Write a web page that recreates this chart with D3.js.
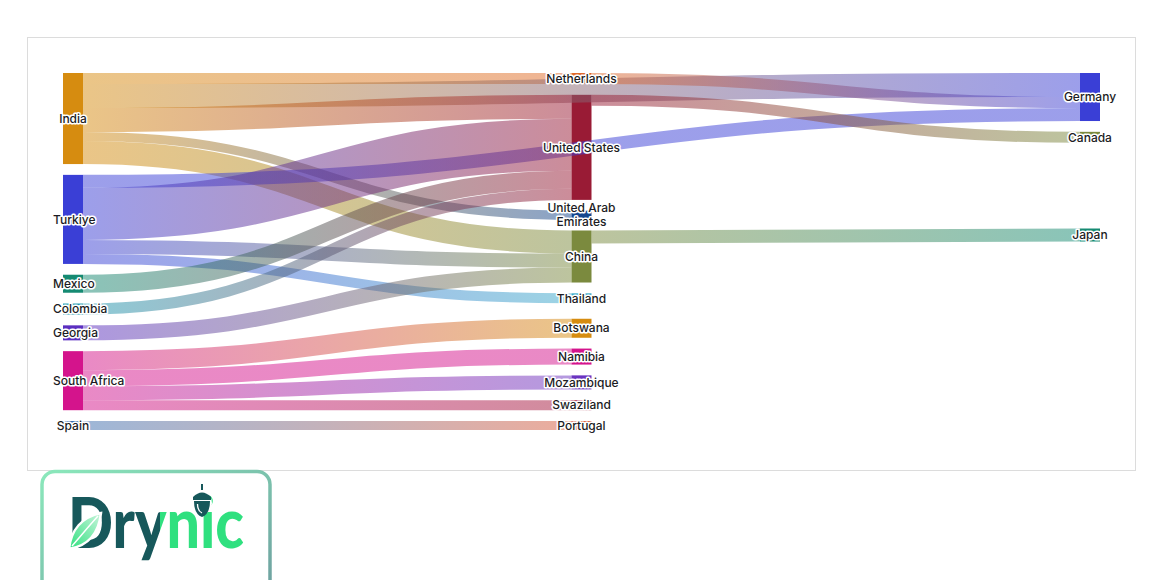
<!DOCTYPE html>
<html>
<head>
<meta charset="utf-8">
<script src="https://cdn.jsdelivr.net/npm/d3@7"></script>
<style>
    html, body { margin: 0; padding: 0; background: #fff; }
    svg { display: block; font-family: Inter, 'Noto Sans', sans-serif; }
</style>
</head>
<body>
<svg id="chart" width="1160" height="580"></svg>
<script>
// Countries, column by column (exporters, first buyers, re-export markets)
const countries = [
    'India', 'Turkiye', 'Mexico', 'Colombia', 'Georgia', 'South Africa', 'Spain',
    'Netherlands', 'United States', 'United Arab Emirates', 'China', 'Thailand',
    'Botswana', 'Namibia', 'Mozambique', 'Swaziland', 'Portugal',
    'Germany', 'Canada', 'Japan'
];
const countryColors = [
    '#d68c10', '#3a3fd6', '#158a72', '#1b98b0', '#5b2fc0', '#d4148c', '#3d6fb0',
    '#e06a2a', '#991b35', '#15478e', '#7b8a3e', '#3aa9c9',
    '#d68c10', '#d4148c', '#6a34c0', '#a3193a', '#d95b3b',
    '#3a3fd6', '#7b8a3e', '#158a72'
];

// Trade flows (order = stacking order on each node)
const flowFrom = [
    'India', 'India', 'India', 'India', 'India',
    'Netherlands',
    'Turkiye', 'Turkiye', 'Turkiye', 'Turkiye',
    'Mexico', 'Colombia', 'Georgia',
    'South Africa', 'South Africa', 'South Africa', 'South Africa',
    'Spain', 'United States', 'China'
];
const flowTo = [
    'Netherlands', 'Germany', 'United States', 'United Arab Emirates', 'China',
    'Germany',
    'Germany', 'United States', 'China', 'Thailand',
    'United States', 'United States', 'China',
    'Botswana', 'Namibia', 'Mozambique', 'Swaziland',
    'Portugal', 'Canada', 'Japan'
];
const flowValue = [
    11, 24, 24, 9, 23,
    11,
    13, 52, 14, 10,
    18, 11, 15,
    19, 16, 14, 10,
    9, 11, 13
];

const width = 1160;
const height = 580;
const extent = [[63, 73], [1100, 430]];
const nodeWidth = 20;
const nodePadding = 10.8;

const svg = d3.select('#chart');

// frame
svg.append('rect')
    .attr('x', 27.5)
    .attr('y', 37.5)
    .attr('width', 1108)
    .attr('height', 433)
    .attr('fill', '#fff')
    .attr('stroke', '#dcdcdc')

// small sankey layout (same algorithm as d3-sankey, left aligned, input order kept)
function sankeyLayout(names, from, to, values) {
    const nodes = names.map((name, index) => ({ name, index, color: countryColors[index], sourceLinks: [], targetLinks: [] }));
    const byName = new Map(nodes.map(n => [n.name, n]));
    const links = values.map((value, index) => ({ index, value, source: byName.get(from[index]), target: byName.get(to[index]) }));
    links.forEach(l => {
        l.source.sourceLinks.push(l);
        l.target.targetLinks.push(l);
    });
    nodes.forEach(n => {
        n.value = Math.max(d3.sum(n.sourceLinks, l => l.value), d3.sum(n.targetLinks, l => l.value));
    });

    // depths
    let current = new Set(nodes);
    let next = new Set();
    let depth = 0;
    while (current.size) {
        for (const n of current) {
            n.depth = depth;
            for (const l of n.sourceLinks) next.add(l.target);
        }
        depth++;
        current = next;
        next = new Set();
    }

    const [[x0, y0], [x1, y1]] = extent;
    const nCols = d3.max(nodes, n => n.depth) + 1;
    const kx = (x1 - x0 - nodeWidth) / (nCols - 1);
    const columns = d3.range(nCols).map(() => []);
    nodes.forEach(n => {
        n.layer = n.depth;
        n.x0 = x0 + n.layer * kx;
        n.x1 = n.x0 + nodeWidth;
        columns[n.layer].push(n);
    });

    const py = Math.min(nodePadding, (y1 - y0) / (d3.max(columns, c => c.length) - 1));
    const ky = d3.min(columns, c => (y1 - y0 - (c.length - 1) * py) / d3.sum(c, n => n.value));
    const breadth = d3.scaleLinear().domain([0, 1]).range([0, ky]);

    for (const col of columns) {
        let y = y0;
        for (const n of col) {
            n.y0 = y;
            n.y1 = y + breadth(n.value);
            y = n.y1 + py;
            n.sourceLinks.forEach(l => l.width = breadth(l.value));
        }
        const spare = (y1 - y + py) / (col.length + 1);
        col.forEach((n, i) => {
            n.y0 += spare * (i + 1);
            n.y1 += spare * (i + 1);
        });
    }

    function targetTop(source, target) {
        let y = source.y0 - (source.sourceLinks.length - 1) * py / 2;
        for (const l of source.sourceLinks) {
            if (l.target === target) break;
            y += l.width + py;
        }
        for (const l of target.targetLinks) {
            if (l.source === source) break;
            y -= l.width;
        }
        return y;
    }

    function sourceTop(source, target) {
        let y = target.y0 - (target.targetLinks.length - 1) * py / 2;
        for (const l of target.targetLinks) {
            if (l.source === source) break;
            y += l.width + py;
        }
        for (const l of source.sourceLinks) {
            if (l.target === target) break;
            y -= l.width;
        }
        return y;
    }

    function pushDown(col, y, i, alpha) {
        for (; i < col.length; ++i) {
            const n = col[i];
            const dy = (y - n.y0) * alpha;
            if (dy > 1e-6) { n.y0 += dy; n.y1 += dy; }
            y = n.y1 + py;
        }
    }

    function pushUp(col, y, i, alpha) {
        for (; i >= 0; --i) {
            const n = col[i];
            const dy = (n.y1 - y) * alpha;
            if (dy > 1e-6) { n.y0 -= dy; n.y1 -= dy; }
            y = n.y0 - py;
        }
    }

    function resolveCollisions(col, alpha) {
        const i = col.length >> 1;
        const subject = col[i];
        pushUp(col, subject.y0 - py, i - 1, alpha);
        pushDown(col, subject.y1 + py, i + 1, alpha);
        pushUp(col, y1, col.length - 1, alpha);
        pushDown(col, y0, 0, alpha);
    }

    const iterations = 6;
    for (let it = 0; it < iterations; ++it) {
        const alpha = Math.pow(0.99, it);
        const beta = Math.max(1 - alpha, (it + 1) / iterations);

        // right to left
        for (let c = columns.length - 2; c >= 0; --c) {
            for (const source of columns[c]) {
                let y = 0, w = 0;
                for (const l of source.sourceLinks) {
                    const v = l.value * (l.target.layer - source.layer);
                    y += sourceTop(source, l.target) * v;
                    w += v;
                }
                if (!(w > 0)) continue;
                const dy = (y / w - source.y0) * alpha;
                source.y0 += dy;
                source.y1 += dy;
            }
            resolveCollisions(columns[c], beta);
        }

        // left to right
        for (let c = 1; c < columns.length; ++c) {
            for (const target of columns[c]) {
                let y = 0, w = 0;
                for (const l of target.targetLinks) {
                    const v = l.value * (target.layer - l.source.layer);
                    y += targetTop(l.source, target) * v;
                    w += v;
                }
                if (!(w > 0)) continue;
                const dy = (y / w - target.y0) * alpha;
                target.y0 += dy;
                target.y1 += dy;
            }
            resolveCollisions(columns[c], beta);
        }
    }

    // link breadths
    nodes.forEach(n => {
        let ys = n.y0;
        let yt = n.y0;
        n.sourceLinks.forEach(l => { l.y0 = ys + l.width / 2; ys += l.width; });
        n.targetLinks.forEach(l => { l.y1 = yt + l.width / 2; yt += l.width; });
    });

    return { nodes, links };
}

const graph = sankeyLayout(countries, flowFrom, flowTo, flowValue);

// nodes
svg.append('g')
    .attr('class', 'nodes')
    .selectAll('rect')
    .data(graph.nodes)
    .join('rect')
    .attr('x', d => d.x0)
    .attr('y', d => d.y0)
    .attr('width', d => d.x1 - d.x0)
    .attr('height', d => Math.max(1, d.y1 - d.y0))
    .attr('fill', d => d.color)

// gradients for links
const defs = svg.append('defs');
graph.links.forEach(l => {
    const g = defs.append('linearGradient')
        .attr('id', 'flow-' + l.index)
        .attr('gradientUnits', 'userSpaceOnUse')
        .attr('x1', l.source.x1)
        .attr('x2', l.target.x0)
        .attr('y1', 0)
        .attr('y2', 0)
    g.append('stop').attr('offset', '0%').attr('stop-color', l.source.color);
    g.append('stop').attr('offset', '100%').attr('stop-color', l.target.color);
});

// links
const linkPath = d3.linkHorizontal()
    .source(d => [d.source.x1, d.y0])
    .target(d => [d.target.x0, d.y1]);

svg.append('g')
    .attr('class', 'links')
    .attr('fill', 'none')
    .selectAll('path')
    .data(graph.links)
    .join('path')
    .attr('d', linkPath)
    .attr('stroke', d => 'url(#flow-' + d.index + ')')
    .attr('stroke-width', d => Math.max(1, d.width))
    .attr('stroke-opacity', 0.5)

// labels
const labelLeft = 53;
const labels = svg.append('g')
    .attr('class', 'labels')
    .style('font-size', '12px')
    .style('font-weight', 500)
    .selectAll('text')
    .data(graph.nodes)
    .join('text')
    .attr('fill', '#1c1c24')
    .attr('stroke', '#fff')
    .attr('stroke-width', 3)
    .attr('stroke-linejoin', 'round')
    .attr('paint-order', 'stroke')
    .attr('text-anchor', 'middle')

labels.each(function (d) {
    const text = d3.select(this);
    const words = d.name.split(' ');
    const lines = [];
    let line = [];
    const probe = text.append('tspan');
    words.forEach(w => {
        const trial = line.concat(w).join(' ');
        probe.text(trial);
        if (line.length && probe.node().getComputedTextLength() > 90) {
            lines.push(line.join(' '));
            line = [w];
        } else {
            line.push(w);
        }
    });
    lines.push(line.join(' '));
    probe.remove();

    const cx = (d.x0 + d.x1) / 2;
    const cy = (d.y0 + d.y1) / 2;
    const lineHeight = 14;
    lines.forEach((t, i) => {
        text.append('tspan')
            .attr('x', cx)
            .attr('y', cy + (i - (lines.length - 1) / 2) * lineHeight)
            .attr('dy', '0.35em')
            .text(t);
    });
    const w = this.getBBox().width;
    if (cx - w / 2 < labelLeft) {
        text.selectAll('tspan').attr('x', labelLeft + w / 2);
    }
});

// brand badge
const badgeGrad = defs.append('linearGradient')
    .attr('id', 'badge-border')
    .attr('x1', '0%').attr('y1', '0%')
    .attr('x2', '100%').attr('y2', '100%')
badgeGrad.append('stop').attr('offset', '0%').attr('stop-color', '#8be8bb');
badgeGrad.append('stop').attr('offset', '100%').attr('stop-color', '#6d9e9f');

const leafGrad = defs.append('linearGradient')
    .attr('id', 'leaf')
    .attr('x1', '0%').attr('y1', '100%')
    .attr('x2', '100%').attr('y2', '0%')
leafGrad.append('stop').attr('offset', '0%').attr('stop-color', '#2fe07f');
leafGrad.append('stop').attr('offset', '100%').attr('stop-color', '#c9f5dc');

// two-tone fill for the word mark: dark "Dry", green "nic"
const wordGrad = defs.append('linearGradient')
    .attr('id', 'word-fill')
    .attr('gradientUnits', 'userSpaceOnUse')
    .attr('x1', 68).attr('x2', 244)
    .attr('y1', 0).attr('y2', 0)
wordGrad.append('stop').attr('offset', '52.5%').attr('stop-color', '#17585b');
wordGrad.append('stop').attr('offset', '52.5%').attr('stop-color', '#2fe07f');

const badge = svg.append('g').attr('class', 'badge');

badge.append('rect')
    .attr('x', 42)
    .attr('y', 471.5)
    .attr('width', 228)
    .attr('height', 130)
    .attr('rx', 13)
    .attr('fill', '#fff')
    .attr('stroke', 'url(#badge-border)')
    .attr('stroke-width', 3.5)

badge.append('text')
    .attr('x', 68)
    .attr('y', 548)
    .attr('font-family', 'Lato')
    .attr('font-weight', 900)
    .attr('font-size', 70)
    .attr('textLength', 176)
    .attr('lengthAdjust', 'spacingAndGlyphs')
    .attr('fill', 'url(#word-fill)')
    .text('Drynic')

// leaf in the D
badge.append('path')
    .attr('d', 'M69,549 C71,530 82,517 101,513 C99,532 89,546 69,549 Z')
    .attr('fill', 'url(#leaf)')
    .attr('stroke', '#fff')
    .attr('stroke-width', 2.5)
badge.append('path')
    .attr('d', 'M72,546 C80,537 88,527 98,516')
    .attr('fill', 'none')
    .attr('stroke', '#fff')
    .attr('stroke-width', 1.5)

// acorn over the i
const acorn = badge.append('g');
acorn.append('ellipse')
    .attr('cx', 202).attr('cy', 503)
    .attr('rx', 10).attr('ry', 11)
    .attr('fill', '#fff')
acorn.append('path')
    .attr('d', 'M193,497 Q202,488 211,497 L211,500 L193,500 Z')
    .attr('fill', '#17585b')
acorn.append('path')
    .attr('d', 'M194,501 L210,501 Q210,514 202,517 Q194,514 194,501 Z')
    .attr('fill', '#17585b')
acorn.append('path')
    .attr('d', 'M197.5,504 Q197.5,511 202,513')
    .attr('fill', 'none')
    .attr('stroke', '#fff')
    .attr('stroke-width', 1.3)
acorn.append('rect')
    .attr('x', 201).attr('y', 484)
    .attr('width', 2).attr('height', 6)
    .attr('fill', '#17585b')
</script>
</body>
</html>
